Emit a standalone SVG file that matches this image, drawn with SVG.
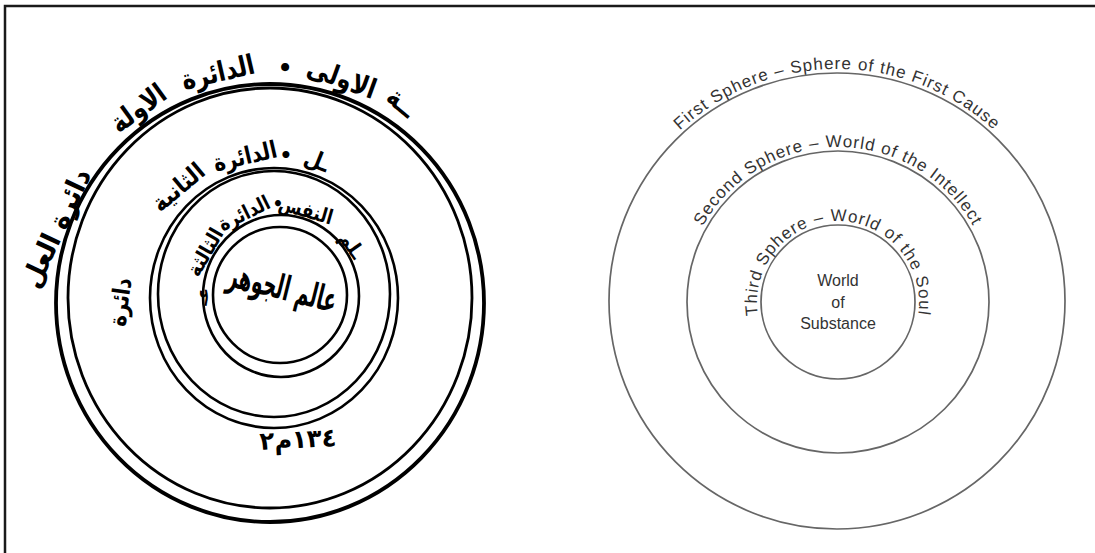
<svg xmlns="http://www.w3.org/2000/svg" width="1095" height="553" viewBox="0 0 1095 553">
<style>
.ring{fill:none;stroke:#000;}
.en{font-family:'Liberation Sans',Arial,sans-serif;font-size:17px;fill:#333;letter-spacing:1px;}
.ctr{font-family:'Liberation Sans',Arial,sans-serif;font-size:16px;fill:#333;text-anchor:middle;}
.ar{font-family:'DejaVu Sans','Noto Sans',sans-serif;font-weight:bold;fill:#000;text-anchor:middle;direction:rtl;}
.a1{font-size:23px;}
.a2{font-size:20px;}
.a3{font-size:17px;}
.sph{fill:none;stroke:#666;stroke-width:1.7;}
</style>
<defs>
<path id="pOuter" d="M 605 301 A 232 232 0 0 1 1069 301"/>
<path id="pMid" d="M 683 302 A 155 155 0 0 1 993 302"/>
<path id="pIn" d="M 758.2 316.1 A 81 81 0 1 1 917.8 316.1"/>
</defs>
<rect width="1095" height="553" fill="#fff"/>
<path id="frame" d="M5 553 V6 H1095" fill="none" stroke="#1a1a1a" stroke-width="2.5"/>

<g id="arabic-diagram">
  <g id="ar-outer-ring">
    <ellipse class="ring" cx="270" cy="303" rx="214" ry="219" stroke-width="3.8"/>
    <ellipse class="ring" cx="270" cy="298" rx="202" ry="210" stroke-width="2.8"/>
    <text class="ar a1" transform="translate(56,228) rotate(-65) scale(1.12,1.2)" dy="8">دائرة العل</text>
    <text class="ar a1" transform="translate(138,108) rotate(-36) scale(1,1.2)" dy="8">الاولة</text>
    <text class="ar a1" transform="translate(218,72) rotate(-13) scale(1,1.2)" dy="8">الدائرة</text>
    <text class="ar a1" x="285" y="76">•</text>
    <text class="ar a1" transform="translate(342,78) rotate(20) scale(1,1.2)" dy="8">الاولى</text>
    <text class="ar a1" transform="translate(402,102) rotate(40) scale(1,1.2)" dy="8">ــة</text>
  </g>
  <g id="ar-middle-ring">
    <ellipse class="ring" cx="274" cy="298" rx="124" ry="130" stroke-width="2.6"/>
    <ellipse class="ring" cx="274" cy="294" rx="116" ry="123" stroke-width="2.6"/>
    <text class="ar a2" transform="translate(120,302) rotate(-82) scale(1,1.2)" dy="7">دائرة</text>
    <text class="ar a2" transform="translate(178,187) rotate(-40) scale(1.05,1.2)" dy="7">الثانية</text>
    <text class="ar a2" transform="translate(245,156) rotate(-13) scale(1,1.2)" dy="7">الدائرة</text>
    <text class="ar a2" x="286" y="162">•</text>
    <text class="ar a2" transform="translate(317,160) rotate(22) scale(1,1.2)" dy="7">ـل</text>
  </g>
  <g id="ar-inner-ring">
    <ellipse class="ring" cx="281" cy="296" rx="78" ry="81" stroke-width="2.6"/>
    <text class="ar a3" transform="translate(205,252) rotate(-60) scale(1.05,1.2)" dy="6">الثالثة</text>
    <text class="ar a3" transform="translate(244,213) rotate(-26) scale(1,1.2)" dy="6">الدائرة</text>
    <text class="ar a3" x="278" y="210">•</text>
    <text class="ar a3" transform="translate(306,210) rotate(16) scale(1,1.2)" dy="6">النفس</text>
    <text class="ar a3" transform="translate(352,245) rotate(55) scale(1.05,1.2)" dy="6">ـلم</text>
    <text class="ar a3" transform="translate(202,296) rotate(-80)" dy="6">عـ</text>
  </g>
  <g id="ar-core">
    <ellipse class="ring" cx="280" cy="295" rx="67" ry="68" stroke-width="2.6"/>
    <text class="ar" font-size="22" transform="translate(282,290) rotate(14) scale(0.85,1.55)" dy="6">عالم الجوهر</text>
  </g>
  <g id="ar-date">
    <text class="ar" font-size="22" transform="translate(298,440) rotate(-3) scale(1.1,1.15)" dy="7">١٣٤م٢</text>
  </g>
</g>

<g id="english-diagram">
  <g id="first-sphere">
    <circle class="sph" cx="837" cy="301" r="228"/>
    <text class="en"><textPath href="#pOuter" startOffset="50%" text-anchor="middle">First Sphere – Sphere of the First Cause</textPath></text>
  </g>
  <g id="second-sphere">
    <circle class="sph" cx="838" cy="302" r="151"/>
    <text class="en"><textPath href="#pMid" startOffset="50%" text-anchor="middle">Second Sphere – World of the Intellect</textPath></text>
  </g>
  <g id="third-sphere">
    <circle class="sph" cx="838" cy="302" r="77"/>
    <text class="en"><textPath href="#pIn" startOffset="50%" text-anchor="middle">Third Sphere – World of the Soul</textPath></text>
  </g>
  <g id="world-of-substance">
    <text class="ctr" x="838" y="286">World</text>
    <text class="ctr" x="838" y="308">of</text>
    <text class="ctr" x="838" y="329">Substance</text>
  </g>
</g>
<g id="connectors"/>
</svg>
